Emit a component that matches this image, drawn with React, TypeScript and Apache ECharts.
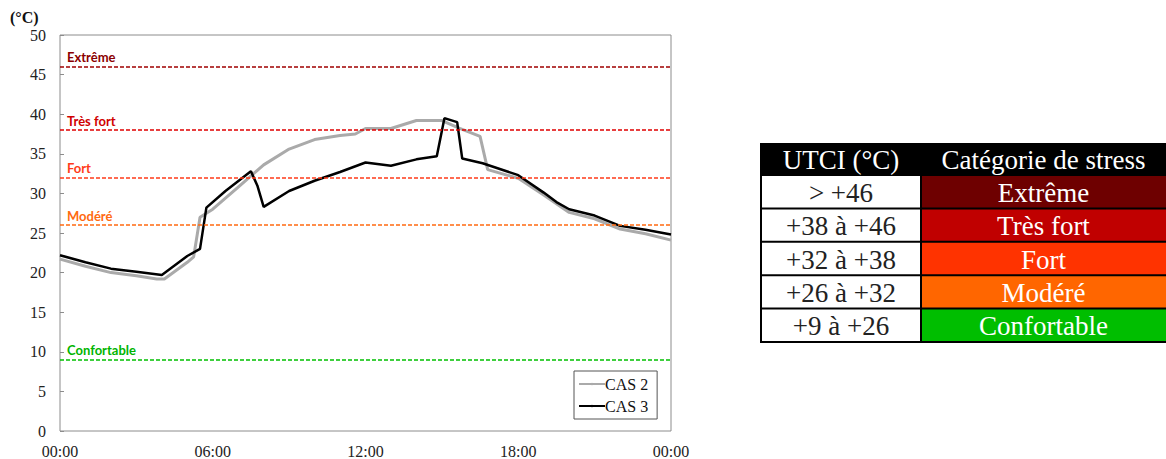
import React, { useEffect, useRef } from "react";
import * as echarts from "echarts";

// ---- Data ----
const cas2Hours = [0, 1, 2, 3, 3.8, 4.1, 5, 5.25, 5.5, 6, 7, 8, 9, 10, 11, 11.6, 12, 13, 14, 15, 15.7, 16.5, 16.8, 18, 19, 20, 21, 22, 23, 24];
const cas2Values = [21.7, 20.8, 20.0, 19.6, 19.2, 19.2, 21.3, 22.0, 27.0, 28.0, 30.8, 33.6, 35.6, 36.8, 37.3, 37.5, 38.2, 38.2, 39.2, 39.2, 38.2, 37.2, 33.0, 31.9, 29.8, 27.6, 26.8, 25.5, 24.9, 24.1];

const cas3Hours = [0, 1, 2, 3, 4, 5, 5.5, 5.75, 6.5, 7.5, 7.75, 8, 9, 10, 11, 12, 13, 14, 14.8, 15.1, 15.6, 15.8, 16.6, 18, 19, 19.5, 20, 21, 22, 23, 24];
const cas3Values = [22.2, 21.3, 20.5, 20.1, 19.7, 22.1, 23.0, 28.2, 30.3, 32.8, 31.0, 28.3, 30.3, 31.6, 32.7, 33.9, 33.5, 34.3, 34.7, 39.5, 39.0, 34.4, 33.8, 32.3, 30.1, 28.9, 28.0, 27.2, 25.9, 25.4, 24.8];

const thresholdValues = [46, 38, 32, 26, 9];
const thresholdLabels = ["Extrême", "Très fort", "Fort", "Modéré", "Confortable"];
const thresholdLineColors = ["#A00000", "#E00000", "#FF3B1A", "#FF6A10", "#00C000"];
const thresholdTextColors = ["#8B0000", "#D00000", "#FF3B1A", "#FF6A10", "#00B400"];

const xTickLabels = ["00:00", "06:00", "12:00", "18:00", "00:00"];

const tableHeaders = ["UTCI (°C)", "Catégorie de stress"];
const tableRanges = ["> +46", "+38 à +46", "+32 à +38", "+26 à +32", "+9 à +26"];
const tableCategories = ["Extrême", "Très fort", "Fort", "Modéré", "Confortable"];
const tableColors = ["#6E0000", "#C00000", "#FF3300", "#FF6600", "#00BE00"];

const serif = "'Liberation Serif', 'Times New Roman', serif";

function buildTable(): any[] {
  const x0 = 761, x1 = 921, x2 = 1166;
  const yHead = 143, headH = 32, rowH = 33.4;
  const els: any[] = [];
  const totalH = headH + rowH * tableRanges.length;
  const font = `27px ${serif}`;
  els.push({ type: "rect", shape: { x: x0 - 1, y: yHead, width: x2 - x0 + 1, height: totalH + 1 }, style: { fill: "#000" } });
  els.push({ type: "text", style: { x: (x0 + x1) / 2, y: yHead + headH / 2 + 1, text: tableHeaders[0], fill: "#fff", font, align: "center", verticalAlign: "middle" } });
  els.push({ type: "text", style: { x: (x1 + x2) / 2, y: yHead + headH / 2 + 1, text: tableHeaders[1], fill: "#fff", font, align: "center", verticalAlign: "middle" } });
  tableRanges.forEach((r, i) => {
    const y = yHead + headH + i * rowH;
    els.push({ type: "rect", shape: { x: x0 + 1, y: y + 1, width: x1 - x0 - 2, height: rowH - 2 }, style: { fill: "#fff" } });
    els.push({ type: "rect", shape: { x: x1 + 1, y: y + 1, width: x2 - x1 - 1, height: rowH - 2 }, style: { fill: tableColors[i] } });
    els.push({ type: "text", style: { x: (x0 + x1) / 2, y: y + rowH / 2 + 1, text: r, fill: "#222", font, align: "center", verticalAlign: "middle" } });
    els.push({ type: "text", style: { x: (x1 + x2) / 2, y: y + rowH / 2 + 1, text: tableCategories[i], fill: "#fff", font, align: "center", verticalAlign: "middle" } });
  });
  return els;
}

export default function App() {
  const ref = useRef<HTMLDivElement>(null);
  useEffect(() => {
    if (!ref.current) return;
    const chart = echarts.init(ref.current, undefined, { renderer: "svg" });
    const cas2 = cas2Hours.map((h, i) => [h, cas2Values[i]]);
    const cas3 = cas3Hours.map((h, i) => [h, cas3Values[i]]);
    chart.setOption({
      animation: false,
      backgroundColor: "#fff",
      grid: { left: 60, top: 35, width: 611, height: 396, show: true, borderColor: "#8c8c8c", borderWidth: 1, containLabel: false },
      xAxis: {
        type: "value", min: 0, max: 24, interval: 6,
        axisLine: { show: false },
        axisTick: { show: false },
        splitLine: { show: false },
        axisLabel: {
          margin: 12, color: "#222", fontFamily: serif, fontSize: 16,
          formatter: (v: number) => xTickLabels[Math.round(v / 6)],
        },
      },
      yAxis: {
        type: "value", min: 0, max: 50, interval: 5,
        axisLine: { show: false },
        axisTick: { show: true, inside: true, length: 4, lineStyle: { color: "#8c8c8c" } },
        splitLine: { show: false },
        axisLabel: { margin: 14, color: "#222", fontFamily: serif, fontSize: 16 },
      },
      legend: {
        orient: "vertical",
        left: 574, top: 371,
        data: ["CAS 2", "CAS 3"],
        borderColor: "#555", borderWidth: 1,
        padding: [5, 9, 5, 4],
        itemGap: 6, itemWidth: 26, itemHeight: 3,
        backgroundColor: "#fff",
        textStyle: { fontFamily: serif, fontSize: 16, color: "#111", padding: [0, 0, 0, -5] },
      },
      graphic: [
        { type: "text", left: 10, top: 9, style: { text: "(°C)", font: `bold 16px ${serif}`, fill: "#111" } },
        ...buildTable(),
      ],
      series: [
        {
          name: "thresholds", type: "line", data: [], silent: true,
          markLine: {
            symbol: "none", silent: true,
            data: thresholdValues.map((v, i) => ({
              yAxis: v,
              lineStyle: { color: thresholdLineColors[i], type: [4, 2], width: 1.5 },
              label: {
                show: true, position: "insideStartTop", formatter: thresholdLabels[i],
                color: thresholdTextColors[i], fontFamily: "Lato, 'Open Sans', sans-serif", fontWeight: "bold", fontSize: 13,
                distance: [7, 3],
              },
            })),
          },
        },
        {
          name: "CAS 2", type: "line", data: cas2, symbol: "none",
          lineStyle: { color: "#AAAAAA", width: 3 }, itemStyle: { color: "#AAAAAA" },
        },
        {
          name: "CAS 3", type: "line", data: cas3, symbol: "none",
          lineStyle: { color: "#000", width: 2.5 }, itemStyle: { color: "#000" },
        },
      ],
    });
    return () => chart.dispose();
  }, []);
  return <div ref={ref} style={{ position: "fixed", left: 0, top: 0, width: 1166, height: 459 }} />;
}
